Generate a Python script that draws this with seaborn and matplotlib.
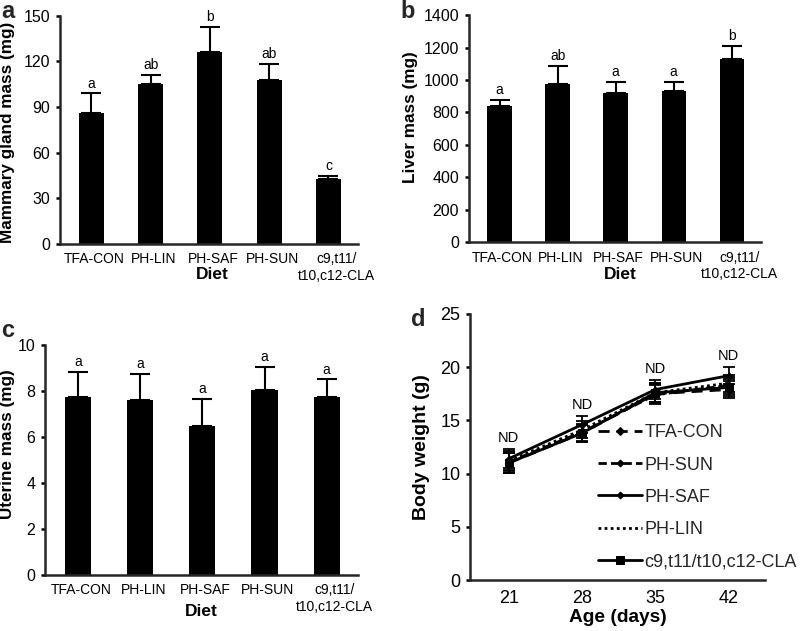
import matplotlib
matplotlib.use("Agg")
import matplotlib.pyplot as plt
import matplotlib.transforms as mtransforms
import seaborn as sns
import numpy as np

# Data
diets = ["TFA-CON", "PH-LIN", "PH-SAF", "PH-SUN", "c9,t11/\nt10,c12-CLA"]

mammary_mean = [86, 105, 126, 107.5, 43]
mammary_err = [13, 6, 16.5, 11, 1.7]
mammary_letters = ["a", "ab", "b", "ab", "c"]

liver_mean = [843, 977, 921, 933, 1131]
liver_err = [37, 110, 70, 58, 78]
liver_letters = ["a", "ab", "a", "a", "b"]

uterine_mean = [7.73, 7.6, 6.48, 8.04, 7.73]
uterine_err = [1.11, 1.15, 1.17, 1.02, 0.78]
uterine_letters = ["a", "a", "a", "a", "a"]

ages = [21, 28, 35, 42]
bw_groups = ["TFA-CON", "PH-SUN", "PH-SAF", "PH-LIN", "c9,t11/t10,c12-CLA"]
bw_tfa = [11.0, 13.8, 17.5, 17.9]
bw_sun = [11.1, 13.9, 17.4, 18.3]
bw_saf = [11.4, 14.6, 17.9, 19.2]
bw_lin = [11.2, 14.1, 17.6, 18.5]
bw_cla = [11.0, 13.8, 17.6, 18.1]
bw_sd = [0.9, 0.8, 0.9, 0.8]

sns.set_theme(style="ticks")
plt.rcParams['font.family'] = ['Liberation Sans', 'DejaVu Sans']
plt.rcParams['axes.linewidth'] = 1.8

fig = plt.figure(figsize=(8, 6.31), dpi=100)
fig.patch.set_facecolor('white')


def style_axis(ax, tick_size):
    sns.despine(ax=ax)
    ax.tick_params(axis='y', length=3, width=1.8, pad=4, labelsize=tick_size,
                   colors='black')
    ax.tick_params(axis='x', length=0, pad=6, colors='black')


def bar_panel(rect, means, errs, letters, ylim, yticks, ylabel, ylab_xy, xlab_xy):
    ax = fig.add_axes(rect)
    sns.barplot(x=diets, y=means, color='black', width=0.42, errorbar=None,
                linewidth=0, ax=ax, saturation=1)
    centers = [p.get_x() + p.get_width() / 2 for p in ax.patches]
    ax.errorbar(centers, means, yerr=[np.zeros(len(errs)), errs], fmt='none',
                ecolor='black', elinewidth=1.5, capsize=7, capthick=1.5)
    for cx, m, e, lab in zip(centers, means, errs, letters):
        ax.annotate(lab, (cx, m + e), xytext=(0, 2), textcoords='offset points',
                    ha='center', va='bottom', fontsize=10, color='black')
    ax.set_ylim(*ylim)
    ax.set_yticks(yticks)
    ax.set_xlim(-0.53, 4.5)
    ax.set_ylabel(ylabel, fontsize=12.3, fontweight='bold', color='black')
    ax.set_xlabel('Diet', fontsize=12.5, fontweight='bold', color='black')
    ax.yaxis.set_label_coords(*ylab_xy)
    ax.xaxis.set_label_coords(*xlab_xy)
    style_axis(ax, 11.5)
    ax.tick_params(axis='x', labelsize=10)
    # labels sit a little right of the bars, the last one more so
    fig.canvas.draw()
    for i, lbl in enumerate(ax.get_xticklabels()):
        dx = 8 if i == len(diets) - 1 else 3
        lbl.set_transform(lbl.get_transform() +
                          mtransforms.ScaledTranslation(dx / 100, 0, fig.dpi_scale_trans))
    return ax


# a: mammary gland
bar_panel([0.075, 0.6133, 0.3725, 0.3618], mammary_mean, mammary_err, mammary_letters,
          (0, 150), [0, 30, 60, 90, 120, 150], 'Mammary gland mass (mg)',
          (-0.15, 0.49), (0.51, -0.1))

# b: liver
bar_panel([0.586, 0.616, 0.365, 0.360], liver_mean, liver_err, liver_letters,
          (0, 1400), np.arange(0, 1401, 200), 'Liver mass (mg)',
          (-0.175, 0.55), (0.52, -0.11))

# c: uterine
bar_panel([0.05625, 0.0887, 0.391, 0.3645], uterine_mean, uterine_err, uterine_letters,
          (0, 10), [0, 2, 4, 6, 8, 10], 'Uterine mass (mg)',
          (-0.095, 0.57), (0.5, -0.125))

# d: body weight
axd = fig.add_axes([0.5875, 0.0808, 0.369, 0.4216])
series = [bw_tfa, bw_sun, bw_saf, bw_lin, bw_cla]
styles = [
    dict(linestyle=(0, (4, 2.5)), marker='D', markersize=4),
    dict(linestyle=(0, (3, 1.5)), marker='D', markersize=3.5),
    dict(linestyle='-', marker='D', markersize=3.5),
    dict(linestyle=(0, (1, 1.2)), marker=None),
    dict(linestyle='-', marker='s', markersize=6),
]
for name, vals, st in zip(bw_groups, series, styles):
    sns.lineplot(x=ages, y=vals, color='black', linewidth=2, label=name,
                 markeredgecolor='black', ax=axd, **st)
    axd.errorbar(ages, vals, yerr=bw_sd, fmt='none', ecolor='black',
                 elinewidth=1.3, capsize=4, capthick=1.3)

tops = np.max(np.array(series), axis=0) + np.array(bw_sd)
for a, t in zip(ages, tops):
    axd.annotate('ND', (a, t), xytext=(0, 3), textcoords='offset points',
                 ha='center', va='bottom', fontsize=10.5, color='black')

axd.set_xlim(17.3, 45.5)
axd.set_ylim(0, 25)
axd.set_xticks(ages)
axd.set_yticks([0, 5, 10, 15, 20, 25])
axd.set_xlabel('Age (days)', fontsize=13.8, fontweight='bold', color='black')
axd.set_ylabel('Body weight (g)', fontsize=14, fontweight='bold', color='black')
axd.yaxis.set_label_coords(-0.135, 0.5)
axd.xaxis.set_label_coords(0.5, -0.11)
style_axis(axd, 13)
axd.tick_params(axis='x', labelsize=13, pad=7)
axd.legend(frameon=False, loc='lower left', bbox_to_anchor=(0.41, 0.01),
           fontsize=13, handlelength=2.4, handletextpad=0.15, labelspacing=0.84,
           borderaxespad=0)

# panel letters
for x, y, s in [(0.002, 1.0, 'a'), (0.5, 1.0, 'b'), (0.002, 0.494, 'c'), (0.514, 0.512, 'd')]:
    fig.text(x, y, s, fontsize=17, fontweight='bold', va='top', ha='left')

fig.savefig('out.png', dpi=100, facecolor='white')
